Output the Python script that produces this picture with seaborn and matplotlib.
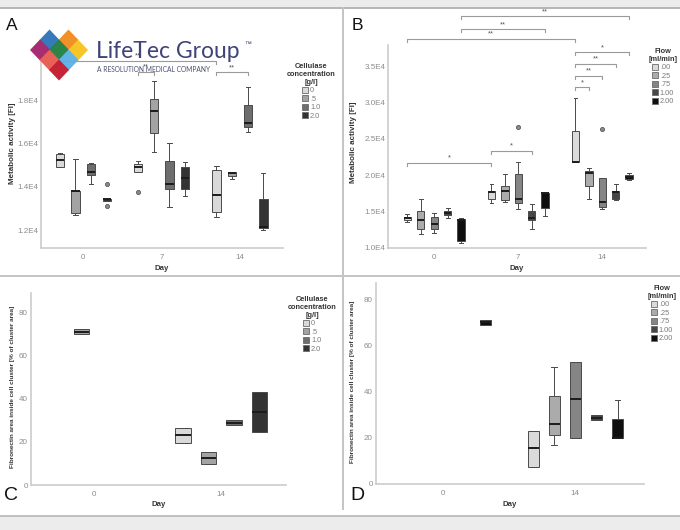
import numpy as np
import pandas as pd
import matplotlib
matplotlib.use("Agg")
import matplotlib.pyplot as plt
import seaborn as sns
from matplotlib.patches import Patch, Polygon, Rectangle

# ---------------- data ----------------
# five-number summaries per box: [low whisker, Q1, median, Q3, high whisker]
A_days = ['0', '7', '14']
A_groups = ['0', '.5', '1.0', '2.0']
A_day0 = [[14910, 14910, 15234, 15510, 15560], [12690, 12785, 13800, 13800, 15300],
          [14125, 14540, 14680, 15050, 15100], [13360, 13360, 13430, 13450, 13450]]
A_day7 = [[14680, 14680, 14910, 15050, 15190], [15600, 16480, 17500, 18050, 18880],
          [13060, 13890, 14125, 15190, 16020], [13570, 13890, 14400, 14910, 15140]]
A_day14 = [[12600, 12830, 13620, 14770, 14960], [14360, 14500, 14610, 14680, 14680],
           [16530, 16760, 16940, 17780, 18600], [12000, 12090, 12140, 13430, 14630]]
A_outliers = [('0', '2.0', 14125), ('0', '2.0', 13110), ('7', '0', 13755)]
A_yticks = [12000, 14000, 16000, 18000]
A_yticklabels = ['1.2E4', '1.4E4', '1.6E4', '1.8E4']
A_brackets = [('0', '0', '14', '0', 19810, '**'), ('7', '0', '7', '.5', 19310, '**'),
              ('14', '0', '14', '1.0', 19300, '**')]

B_days = ['0', '7', '14']
B_groups = ['.00', '.25', '.75', '1.00', '2.00']
B_day0 = [[13540, 13860, 14090, 14310, 14640], [11930, 12570, 13810, 15140, 16700],
          [12020, 12570, 13260, 14310, 14780], [14090, 14500, 14780, 15100, 15470],
          [10650, 11000, 13860, 13950, 14090]]
B_day7 = [[16150, 16700, 17750, 17890, 18810], [16380, 16610, 17850, 18580, 20190],
          [15330, 16150, 16700, 20150, 21880], [12570, 13860, 14090, 15140, 16060],
          [14410, 15470, 17520, 17610, 17610]]
B_day14 = [[21800, 21800, 21880, 26110, 30610], [16750, 18580, 20370, 20600, 20980],
           [15330, 15600, 16290, 19680, 19680], [16610, 16750, 17750, 17890, 18770],
           [19360, 19500, 19820, 20050, 20290]]
B_outliers = [('7', '.75', 26570), ('14', '.75', 26340)]
B_yticks = [10000, 15000, 20000, 25000, 30000, 35000]
B_yticklabels = ['1.0E4', '1.5E4', '2.0E4', '2.5E4', '3.0E4', '3.5E4']
B_brackets = [('0', '2.00', '14', '2.00', 41850, '**'), ('0', '2.00', '7', '2.00', 40110, '**'),
              ('0', '.00', '14', '.00', 38780, '**'), ('14', '.00', '14', '2.00', 36950, '*'),
              ('14', '.00', '14', '1.00', 35340, '**'), ('14', '.00', '14', '.75', 33680, '**'),
              ('14', '.00', '14', '.25', 32070, '*'), ('0', '.00', '7', '.00', 21750, '*'),
              ('7', '.00', '7', '1.00', 23400, '*')]

C_days = ['0', '14']
C_groups = ['0', '.5', '1.0', '2.0']
C_day0 = [None, [69.8, 69.8, 71.0, 72.3, 72.3], None, None]
C_day14 = [[19.5, 19.5, 23.0, 26.4, 26.4], [9.9, 9.9, 12.6, 15.2, 15.2],
           [27.6, 27.6, 28.8, 30.0, 30.0], [24.4, 24.4, 33.6, 42.9, 42.9]]
C_yticks = [0, 20, 40, 60, 80]

D_days = ['0', '14']
D_groups = ['.00', '.25', '.75', '1.00', '2.00']
D_day0 = [None, None, None, None, [68.8, 68.8, 70.0, 70.9, 70.9]]
D_day14 = [[7.5, 7.5, 15.4, 23.0, 23.0], [16.8, 21.3, 25.9, 38.1, 50.7],
           [19.8, 19.8, 36.6, 52.9, 52.9], [27.6, 27.6, 28.4, 29.7, 29.7],
           [19.8, 19.8, 19.9, 28.0, 36.2]]
D_yticks = [0, 20, 40, 60, 80]

# ---------------- styling ----------------
A_colors = ['#d9d9d9', '#a3a3a3', '#6e6e6e', '#333333']
B_colors = ['#dadada', '#ababab', '#858585', '#474747', '#0f0f0f']
FONT = ['Liberation Sans', 'DejaVu Sans']
plt.rcParams['font.family'] = FONT

W, H = 680, 530
fig = plt.figure(figsize=(6.8, 5.3), dpi=100)
fig.patch.set_facecolor('white')


def rect(l, t, r, b):
    return [l / W, 1 - b / H, (r - l) / W, (b - t) / H]


def expand(days, groups, tables, outliers):
    rows = []
    for d, per_group in zip(days, tables):
        for g, s in zip(groups, per_group):
            if s is None:
                continue
            for v in s:
                rows += [(d, g, v)] * 20
    for d, g, v in outliers:
        rows.append((d, g, v))
    return pd.DataFrame(rows, columns=['Day', 'group', 'value'])


def xpos(days, groups, d, g):
    n = len(groups)
    return days.index(d) + (groups.index(g) - (n - 1) / 2) * 0.8 / n


def panel(ax, days, groups, tables, outliers, colors, gap, xlim, ylim,
          yticks, yticklabels, ylabel, ylab_xy, ylab_size, xlab_y,
          legend_title, legend_xy):
    df = expand(days, groups, tables, outliers)
    sns.boxplot(data=df, x='Day', y='value', hue='group', order=days, hue_order=groups,
                palette=dict(zip(groups, colors)), saturation=1, dodge=True,
                width=0.8, gap=gap, linewidth=0.7, linecolor='#4a4a4a', whis=1.5,
                medianprops=dict(color='#1c1c1c', linewidth=1.4),
                flierprops=dict(marker='o', markersize=3, markerfacecolor='#8a8a8a',
                                markeredgecolor='#4a4a4a', markeredgewidth=0.5),
                legend=False, ax=ax)
    ax.set_xlim(*xlim)
    ax.set_ylim(*ylim)
    ax.set_yticks(yticks)
    ax.set_yticklabels(yticklabels)
    ax.tick_params(length=0, labelsize=5.8, labelcolor='#8c8c8c')
    ax.tick_params(axis='x', pad=4)
    ax.tick_params(axis='y', pad=2)
    for s in ['top', 'right']:
        ax.spines[s].set_visible(False)
    for s in ['left', 'bottom']:
        ax.spines[s].set_color('#cccccc')
        ax.spines[s].set_linewidth(1.2)
    ax.set_facecolor('white')
    ax.set_ylabel(ylabel, fontsize=ylab_size, fontweight='bold', color='#333333')
    ax.yaxis.set_label_coords(*ylab_xy)
    ax.set_xlabel('Day', fontsize=5.6, fontweight='bold', color='#333333')
    ax.xaxis.set_label_coords(0.5, xlab_y)
    handles = [Patch(facecolor=c, edgecolor='#6a6a6a', linewidth=0.6) for c in colors]
    leg = ax.legend(handles, groups, title=legend_title, loc='upper center',
                    bbox_to_anchor=(legend_xy[0] / W, 1 - legend_xy[1] / H),
                    bbox_transform=fig.transFigure, frameon=False, fontsize=5.3,
                    title_fontproperties={'weight': 'bold', 'size': 5.3},
                    handlelength=0.9, handleheight=0.9, handletextpad=0.2,
                    labelspacing=0.12, borderpad=0, borderaxespad=0)
    for t in leg.get_texts():
        t.set_color('#7a7a7a')
    leg.get_title().set_color('#333333')
    leg.get_title().set_multialignment('center')


def brackets(ax, days, groups, items, tick):
    for d1, g1, d2, g2, y, lab in items:
        x1 = xpos(days, groups, d1, g1)
        x2 = xpos(days, groups, d2, g2)
        ax.plot([x1, x1, x2, x2], [y - tick, y, y, y - tick], color='#9a9a9a',
                lw=0.8, clip_on=False, zorder=5)
        ax.text((x1 + x2) / 2, y + tick * 0.3, lab, ha='center', va='bottom',
                fontsize=5.5, color='#555555', clip_on=False)


axA = fig.add_axes(rect(41, 61, 283, 248))
panel(axA, A_days, A_groups, [A_day0, A_day7, A_day14], A_outliers, A_colors, 0.47,
      (-0.54, 2.55), (11170, 19800), A_yticks, A_yticklabels,
      'Metabolic activity [FI]', (-0.105, 0.56), 5.8, -0.091,
      'Cellulase\nconcentration\n[g/l]', (311, 63))
brackets(axA, A_days, A_groups, A_brackets, 140)

axB = fig.add_axes(rect(388, 45, 646, 248))
panel(axB, B_days, B_groups, [B_day0, B_day7, B_day14], B_outliers, B_colors, 0.45,
      (-0.55, 2.52), (10000, 37900), B_yticks, B_yticklabels,
      'Metabolic activity [FI]', (-0.122, 0.52), 5.8, -0.084,
      'Flow\n[ml/min]', (663, 48))
brackets(axB, B_days, B_groups, B_brackets, 420)

axC = fig.add_axes(rect(30.7, 293.3, 286, 485))
panel(axC, C_days, C_groups, [C_day0, C_day14], [], A_colors, 0.4,
      (-0.5, 1.51), (0, 88.8), C_yticks, [str(v) for v in C_yticks],
      'Fibronectin area inside cell cluster [% of cluster area]', (-0.063, 0.51), 4.6, -0.083,
      'Cellulase\nconcentration\n[g/l]', (312, 296))

axD = fig.add_axes(rect(375.7, 283.3, 644, 484))
panel(axD, D_days, D_groups, [D_day0, D_day14], [], B_colors, 0.47,
      (-0.513, 1.52), (0, 86.9), D_yticks, [str(v) for v in D_yticks],
      'Fibronectin area inside cell cluster [% of cluster area]', (-0.079, 0.507), 4.6, -0.085,
      'Flow\n[ml/min]', (662, 285))

# ---------------- overlay: frame, panel letters, logo ----------------
ov = fig.add_axes([0, 0, 1, 1], zorder=20)
ov.set_xlim(0, W)
ov.set_ylim(H, 0)
ov.axis('off')
ov.patch.set_alpha(0)
ov.add_patch(Rectangle((0, 0), W, 7, color='#ececec', lw=0))
ov.add_patch(Rectangle((0, 516), W, 14, color='#ececec', lw=0))
ov.plot([0, W], [7.5, 7.5], color='#a9a9a9', lw=1.2)
ov.plot([0, W], [516, 516], color='#b5b5b5', lw=1.2)
ov.plot([0, W], [276, 276], color='#c4c4c4', lw=1.4)
ov.plot([342.5, 342.5], [8, 509], color='#c4c4c4', lw=1.4)

ov.text(12, 26, 'A', fontsize=12.5, ha='center', va='center', color='#111111')
ov.text(357, 25.5, 'B', fontsize=12.5, ha='center', va='center', color='#111111')
ov.text(11, 496, 'C', fontsize=14, ha='center', va='center', color='#111111')
ov.text(357, 496, 'D', fontsize=14, ha='center', va='center', color='#111111')

logo_cx = [49.5, 68.5, 40, 59, 78, 49.5, 68.5, 59]
logo_cy = [40, 40, 50, 50, 50, 60, 60, 70]
logo_col = ['#2b73b8', '#f08a1d', '#a3206a', '#1f7f3f', '#f6c21c', '#e85a4f', '#5ab0e3', '#c2172b']
for cx, cy, c in zip(logo_cx, logo_cy, logo_col):
    ov.add_patch(Polygon([(cx, cy - 10.5), (cx + 10, cy), (cx, cy + 10.5), (cx - 10, cy)],
                         closed=True, facecolor=c, edgecolor='none', alpha=0.95))
ov.text(96, 52, 'LifeTec Group', fontsize=16.5, family=['Lato', 'DejaVu Sans'],
        fontweight='normal', color='#2b2f6b', ha='left', va='center', alpha=0.9)
ov.text(244, 45, '™', fontsize=5, color='#2b2f6b', ha='left', va='center')
ov.text(97, 70, 'A RESOLUTION MEDICAL COMPANY', fontsize=4.8, color='#4a4e72',
        ha='left', va='center', family=['Lato', 'DejaVu Sans'])

fig.savefig('out.png', dpi=100, facecolor=fig.get_facecolor())
